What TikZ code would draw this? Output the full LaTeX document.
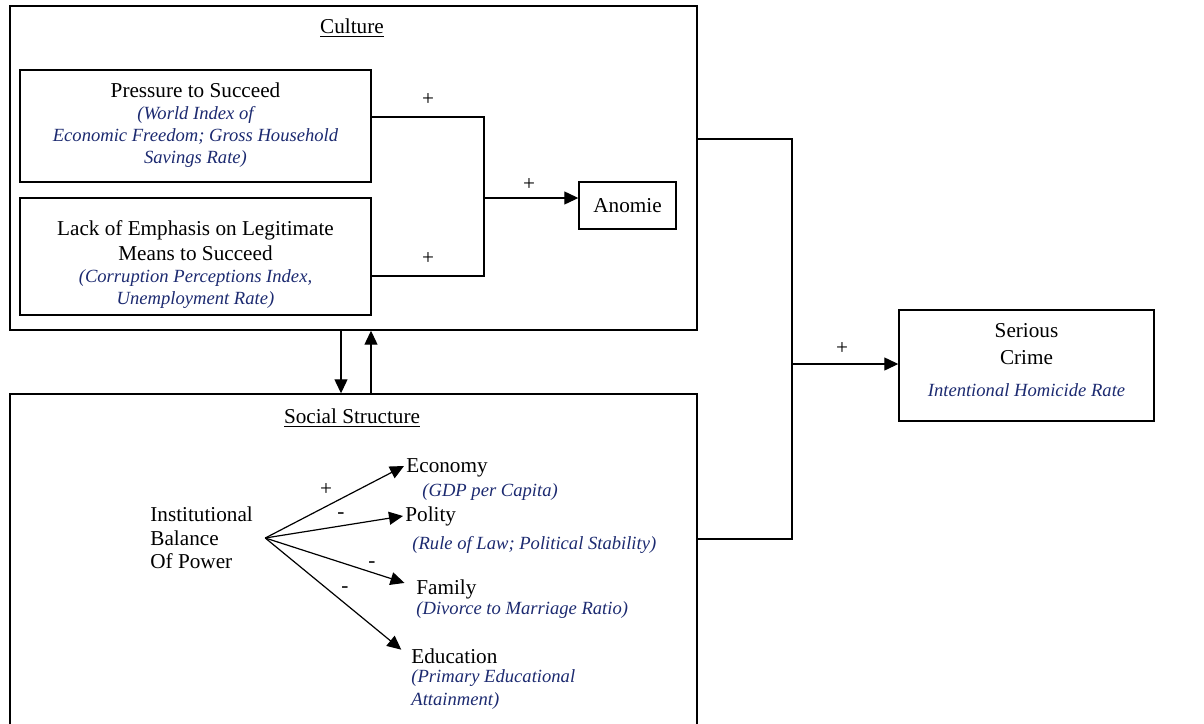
\documentclass[tikz,border=0pt]{standalone}
\usepackage{fontspec}
\setmainfont{Liberation Serif}
\usetikzlibrary{positioning,arrows.meta}

\definecolor{idxblue}{RGB}{28,42,112}
\newcommand{\idx}[1]{{\fontsize{9.3}{11}\selectfont\itshape\color{idxblue}#1}}

\begin{document}
\begin{tikzpicture}[x=0.5pt,y=-0.5pt,
    every node/.style={font=\fontsize{10.6}{11.5}\selectfont},
    box/.style={draw,line width=0.7pt,align=center,inner sep=0pt},
    conn/.style={line width=0.6pt},
    arr/.style={conn,-{Triangle[length=7pt,width=6.5pt]}},
    lbl/.style={anchor=west,inner sep=1pt,align=left}
    ]
        \clip (0,0) rectangle (1204,723);
        % Culture
        \node[box,minimum width=343.5pt,minimum height=162pt] (cult) at (353.5,168) {};
        \node (cultlbl) at (352,28) {\underline{Culture}};
        \node[box,minimum width=175.5pt,minimum height=56pt] (press) at (195.5,126) {};
        \node[align=center] (presstxt) at (195.5,125)
            {Pressure to Succeed\\[-0.5pt] \idx{(World Index of}\\[-0.5pt] \idx{Economic Freedom; Gross Household}\\[-0.5pt] \idx{Savings Rate)}};
        \node[box,minimum width=175.5pt,minimum height=58.5pt] (lack) at (195.5,256.5) {};
        \node[align=center] (lacktxt) at (195.5,265)
            {Lack of Emphasis on Legitimate\\[1pt] Means to Succeed\\[-0.5pt] \idx{(Corruption Perceptions Index,}\\[-0.5pt] \idx{Unemployment Rate)}};
        \node[box,minimum width=48.5pt,minimum height=23.5pt] (anom) at (627.5,205.5) {Anomie};
        \coordinate (jn) at (484,198);
        \draw[conn] ([yshift=4.5pt]press.east) -| (jn) |- ([yshift=-9.75pt]lack.east);
        \draw[arr] (jn) -- (anom.west |- jn);
        \node (p1) at (428,100) {+};
        \node (p2) at (428,259) {+};
        \node (p3) at (529,185) {+};

        % Social structure
        \node[box,minimum width=343.5pt,minimum height=183pt] (soc) at (353.5,577) {};
        \node (soclbl) at (352,418) {\underline{Social Structure}};
        \draw[arr] ([xshift=-6.25pt]cult.south) -- ([xshift=-6.25pt]soc.north);
        \draw[arr] ([xshift=8.75pt]soc.north) -- ([xshift=8.75pt]cult.south);
        \node[align=left,anchor=west,inner sep=0pt] (ibp) at (150,538)
            {Institutional\\[0.3pt] Balance\\[0.3pt] Of Power};
        \coordinate (src) at ([xshift=6pt]ibp.east);
        \node[lbl] (econ) at (404,468) {Economy};
        \node[lbl] (gdp) at (420,492) {\idx{(GDP per Capita)}};
        \node[lbl] (pol) at (403,516) {Polity};
        \node[lbl] (rol) at (410,545) {\idx{(Rule of Law; Political Stability)}};
        \node[lbl] (fam) at (414,589) {Family};
        \node[lbl] (div) at (414,610) {\idx{(Divorce to Marriage Ratio)}};
        \node[lbl] (edu) at (409,656) {Education};
        \node[lbl] (pea) at (409,690) {\idx{(Primary Educational}\\ \idx{Attainment)}};
        \draw[arr] (src) -- ([yshift=1pt]econ.west);
        \draw[arr] (src) -- (pol.west);
        \draw[arr,shorten >=5pt] (src) -- ([yshift=1.5pt]fam.west);
        \draw[arr,shorten >=5pt] (src) -- (edu.west);
        \node (s1) at (326,490) {+};
        \node (s2) at (341,516) {-};
        \node (s3) at (372,565) {-};
        \node (s4) at (345,590) {-};

        % Serious crime
        \node[box,minimum width=127.5pt,minimum height=55.5pt] (crime) at (1026.5,365.5) {};
        \node[align=center] (crimetxt) at (1026.5,360)
            {Serious\\[2pt] Crime\\[4.5pt] \idx{Intentional Homicide Rate}};
        \coordinate (jc) at (792,364);
        \draw[conn] ([yshift=14.5pt]cult.east) -| (jc) |- ([yshift=19pt]soc.east);
        \draw[arr] (jc) -- (crime.west |- jc);
        \node (p4) at (842,349) {+};
\end{tikzpicture}
\end{document}
